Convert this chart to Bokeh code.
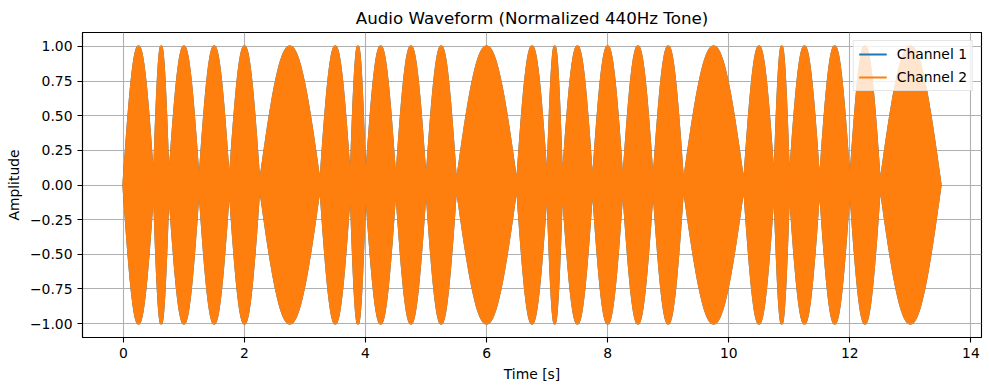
import numpy as np
from bokeh.plotting import figure
from bokeh.models import (FixedTicker, CustomJSTickFormatter, Legend, LegendItem,
                          Range1d, ColumnDataSource)
from bokeh.embed import file_html
from bokeh.resources import INLINE

# ---- data ----
# note lengths (seconds) of the successive 440 Hz tone bursts
note_durations = [0.5, 0.25, 0.5, 0.5, 0.5, 1.0,
                  0.5, 0.25, 0.5, 0.5, 0.5, 1.0,
                  0.5, 0.25, 0.5, 0.5, 0.5, 0.5, 1.0,
                  0.5, 0.25, 0.5, 0.5, 0.5, 1.0]
# normalized peak amplitude of every burst
ch1_peaks = [1.0, 1.0, 1.0, 1.0, 1.0, 1.0,
             1.0, 1.0, 1.0, 1.0, 1.0, 1.0,
             1.0, 1.0, 1.0, 1.0, 1.0, 1.0, 1.0,
             1.0, 1.0, 1.0, 1.0, 1.0, 1.0]
ch2_peaks = [1.0, 1.0, 1.0, 1.0, 1.0, 1.0,
             1.0, 1.0, 1.0, 1.0, 1.0, 1.0,
             1.0, 1.0, 1.0, 1.0, 1.0, 1.0, 1.0,
             1.0, 1.0, 1.0, 1.0, 1.0, 1.0]
x_ticks = [0, 2, 4, 6, 8, 10, 12, 14]
y_ticks = [-1.0, -0.75, -0.5, -0.25, 0.0, 0.25, 0.5, 0.75, 1.0]

channel_names = ["Channel 1", "Channel 2"]
channel_colors = ["#1f77b4", "#ff7f0e"]


def envelope(durations, peaks, pts=80):
    """Half-sine amplitude envelope of each tone burst."""
    ts, es = [], []
    start = 0.0
    for d, a in zip(durations, peaks):
        u = np.linspace(0.0, 1.0, pts)
        ts.append(start + u * d)
        es.append(a * np.sin(np.pi * u))
        start += d
    return np.concatenate(ts), np.concatenate(es)


FONT = "DejaVu Sans"

p = figure(width=985, height=388, output_backend="svg", toolbar_location=None,
           x_range=Range1d(-0.675, 14.175), y_range=Range1d(-1.1, 1.1),
           min_border_left=82, min_border_right=4, min_border_bottom=51,
           min_border_top=32, title="Audio Waveform (Normalized 440Hz Tone)")

p.title.text_font = FONT
p.title.text_font_size = "16.7px"
p.title.text_font_style = "normal"
p.title.align = "center"
p.title.standoff = 10
p.title.text_color = "black"

legend_items = []
for name, color, peaks in zip(channel_names, channel_colors, [ch1_peaks, ch2_peaks]):
    t, env = envelope(note_durations, peaks)
    src = ColumnDataSource(dict(t=t, up=env, lo=-env))
    p.varea(x="t", y1="lo", y2="up", source=src, fill_color=color, fill_alpha=1.0)
    ox = np.concatenate([t, [np.nan], t])
    oy = np.concatenate([env, [np.nan], -env])
    r = p.line(ox, oy, line_color=color, line_width=2)
    legend_items.append(LegendItem(label=name, renderers=[r]))

legend = Legend(items=legend_items, location="top_right")
legend.label_text_font = FONT
legend.label_text_font_size = "13.9px"
legend.label_text_color = "black"
legend.glyph_width = 28
legend.glyph_height = 14
legend.label_height = 14
legend.label_standoff = 10
legend.spacing = 7
legend.padding = 5
legend.margin = 8
legend.border_line_color = "#cccccc"
legend.border_line_width = 1
legend.background_fill_color = "white"
legend.background_fill_alpha = 0.8
p.add_layout(legend)

p.xaxis.ticker = FixedTicker(ticks=x_ticks)
p.yaxis.ticker = FixedTicker(ticks=y_ticks)
p.yaxis.formatter = CustomJSTickFormatter(
    code="return tick.toFixed(2).replace('-', '\u2212');")

for ax in (p.xaxis, p.yaxis):
    ax.major_label_text_font = FONT
    ax.major_label_text_font_size = "13.9px"
    ax.major_label_text_color = "black"
    ax.axis_label_text_font = FONT
    ax.axis_label_text_font_size = "13.9px"
    ax.axis_label_text_font_style = "normal"
    ax.axis_label_text_color = "black"
    ax.axis_line_color = "black"
    ax.axis_line_width = 1.1
    ax.major_tick_line_color = "black"
    ax.major_tick_line_width = 1.1
    ax.major_tick_out = 5
    ax.major_tick_in = 0
    ax.minor_tick_line_color = None
    ax.major_label_standoff = 5
    ax.axis_label_standoff = 5

p.xaxis.axis_label = "Time [s]"
p.yaxis.axis_label = "Amplitude"

p.xgrid.grid_line_color = "#b0b0b0"
p.ygrid.grid_line_color = "#b0b0b0"
p.xgrid.grid_line_width = 1.1
p.ygrid.grid_line_width = 1.1

p.outline_line_color = "black"
p.outline_line_width = 1.1
p.outline_line_alpha = 1.0
p.background_fill_color = "white"
p.border_fill_color = "white"

open("out.html", "w").write(file_html(p, INLINE))
